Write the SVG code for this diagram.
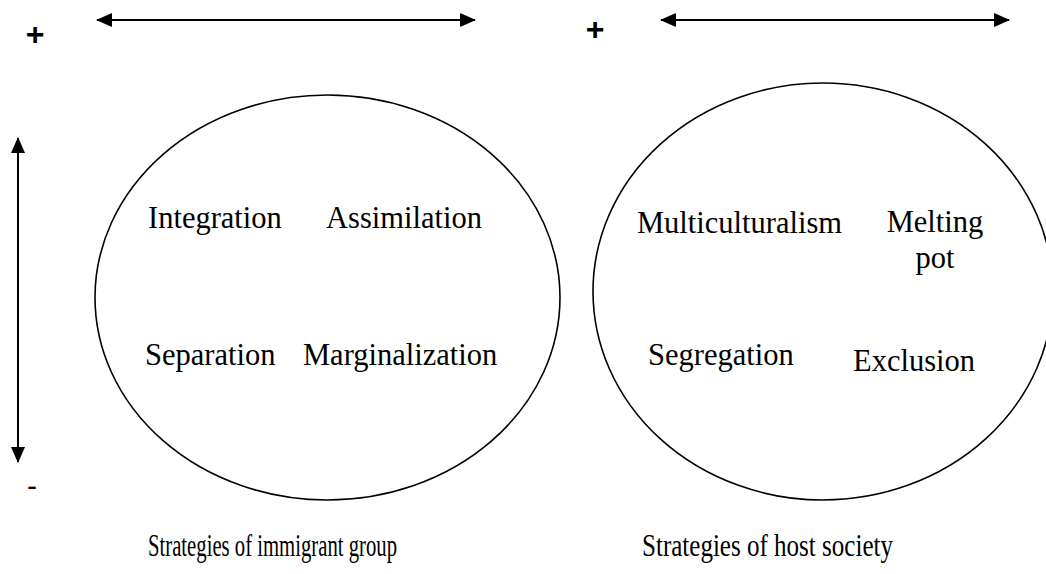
<svg xmlns="http://www.w3.org/2000/svg" width="1046" height="574" viewBox="0 0 1046 574">
<style>
.lbl{font-family:"Liberation Serif","Times New Roman",serif;font-size:30.5px;fill:#000}
.cap{font-family:"Liberation Serif","Times New Roman",serif;font-size:31px;fill:#000}
.sign{font-family:"Liberation Sans",Arial,sans-serif;font-size:32px;font-weight:bold;fill:#000}
.ell{fill:none;stroke:#000;stroke-width:1.6}
.ax{stroke:#000;stroke-width:2;fill:none}
</style>
<defs>
<marker id="ah" viewBox="0 0 16 14" refX="15" refY="7" markerWidth="16" markerHeight="14" markerUnits="userSpaceOnUse" orient="auto-start-reverse">
<path d="M0,0 L16,7 L0,14 Z" fill="#000"/>
</marker>
</defs>
<g id="connectors">
<line class="ax" x1="97" y1="20" x2="475" y2="20" marker-start="url(#ah)" marker-end="url(#ah)"/>
<line class="ax" x1="661" y1="20" x2="1009" y2="20" marker-start="url(#ah)" marker-end="url(#ah)"/>
<line class="ax" x1="18" y1="138" x2="18" y2="462" marker-start="url(#ah)" marker-end="url(#ah)"/>
</g>
<g id="signs">
<text class="sign" x="35" y="45" text-anchor="middle">+</text>
<text class="sign" x="595" y="40" text-anchor="middle">+</text>
<text class="sign" x="32" y="496" text-anchor="middle" style="font-weight:normal;font-size:30px">-</text>
</g>
<g id="immigrant">
<ellipse class="ell" cx="327.5" cy="297.5" rx="232.5" ry="202.5"/>
<text class="lbl" x="148" y="228">Integration</text>
<text class="lbl" x="326" y="228">Assimilation</text>
<text class="lbl" x="145" y="365">Separation</text>
<text class="lbl" x="303" y="365">Marginalization</text>
</g>
<g id="host">
<ellipse class="ell" cx="823" cy="291.5" rx="230" ry="208.5"/>
<text class="lbl" x="637" y="233">Multiculturalism</text>
<text class="lbl" x="935" y="232" text-anchor="middle">Melting</text>
<text class="lbl" x="935" y="268" text-anchor="middle">pot</text>
<text class="lbl" x="648" y="365">Segregation</text>
<text class="lbl" x="853" y="371">Exclusion</text>
</g>
<g id="captions">
<text class="cap" x="148" y="556" textLength="249" lengthAdjust="spacingAndGlyphs">Strategies of immigrant group</text>
<text class="cap" x="642" y="556" textLength="251" lengthAdjust="spacingAndGlyphs">Strategies of host society</text>
</g>
</svg>
